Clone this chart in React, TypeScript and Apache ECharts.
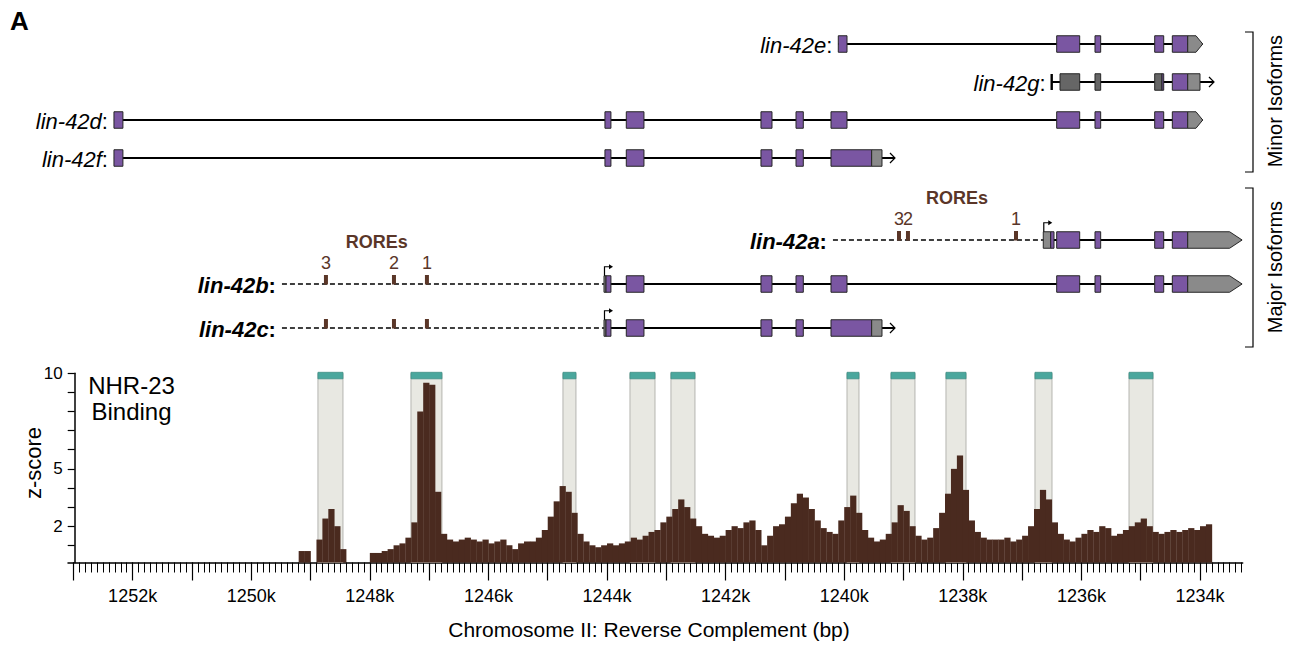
import React, { useEffect, useRef } from 'react';
import * as echarts from 'echarts';

const FONT = '"Liberation Sans", Arial, Helvetica, sans-serif';
const X_MIN = 1233280;
const X_MAX = 1253090;
const Y_MIN = 0.1;
const Y_MAX = 10;

const PURPLE = '#7a56a2';
const GREY = '#8a8a8a';
const DARK_GREY = '#666666';
const BROWN = '#4a2a1f';
const RORE_BROWN = '#5a3628';
const TEAL = '#4aa79d';

// Isoform rows
const MINOR_ROWS = ['lin-42e', 'lin-42g', 'lin-42d', 'lin-42f'];
const MAJOR_ROWS = ['lin-42a', 'lin-42b', 'lin-42c'];

// transcript spans: [row, left bp, right bp, dashed]
const MINOR_SPANS = [
  [0, 1240100, 1233954, 0],
  [1, 1236501, 1233764, 0],
  [2, 1252315, 1233954, 0],
  [3, 1252315, 1239144, 0],
];
const MAJOR_SPANS = [
  [0, 1240190, 1236643, 1],
  [0, 1236643, 1233300, 0],
  [1, 1249482, 1244051, 1],
  [1, 1244051, 1233300, 0],
  [2, 1249482, 1244051, 1],
  [2, 1244051, 1239144, 0],
];

// exons: [row, left bp, right bp, kind] kind: 0 coding, 1 UTR, 2 non-coding dark, 3 3'UTR arrow
const MINOR_EXONS = [
  [0, 1240100, 1239953, 0], [0, 1236417, 1236029, 0], [0, 1235771, 1235675, 0],
  [0, 1234764, 1234612, 0], [0, 1234467, 1234207, 0], [0, 1234207, 1233954, 3],
  [1, 1236361, 1236029, 2], [1, 1235771, 1235675, 2], [1, 1234764, 1234641, 2],
  [1, 1234641, 1234612, 0], [1, 1234467, 1234207, 0], [1, 1234207, 1234000, 1],
  [2, 1252315, 1252164, 0], [2, 1244035, 1243934, 0], [2, 1243675, 1243377, 0],
  [2, 1241404, 1241218, 0], [2, 1240813, 1240690, 0], [2, 1240223, 1239953, 0],
  [2, 1236417, 1236029, 0], [2, 1235771, 1235675, 0], [2, 1234764, 1234612, 0],
  [2, 1234467, 1234207, 0], [2, 1234207, 1233954, 3],
  [3, 1252315, 1252164, 0], [3, 1244035, 1243934, 0], [3, 1243675, 1243377, 0],
  [3, 1241404, 1241218, 0], [3, 1240813, 1240690, 0], [3, 1240223, 1239537, 0],
  [3, 1239537, 1239363, 1],
];
const MAJOR_EXONS = [
  [0, 1236643, 1236518, 1], [0, 1236518, 1236462, 0], [0, 1236417, 1236029, 0],
  [0, 1235771, 1235675, 0], [0, 1234764, 1234612, 0], [0, 1234467, 1234207, 0],
  [0, 1234207, 1233290, 3],
  [1, 1244051, 1244017, 1], [1, 1244017, 1243934, 0], [1, 1243675, 1243377, 0],
  [1, 1241404, 1241218, 0], [1, 1240813, 1240690, 0], [1, 1240223, 1239953, 0],
  [1, 1236417, 1236029, 0], [1, 1235771, 1235675, 0], [1, 1234764, 1234612, 0],
  [1, 1234467, 1234207, 0], [1, 1234207, 1233290, 3],
  [2, 1244051, 1244017, 1], [2, 1244017, 1243934, 0], [2, 1243675, 1243377, 0],
  [2, 1241404, 1241218, 0], [2, 1240813, 1240690, 0], [2, 1240223, 1239537, 0],
  [2, 1239537, 1239363, 1],
];
// open arrow ends [row, bp]
const MINOR_ARROW_ENDS = [[1, 1233764], [3, 1239144]];
const MAJOR_ARROW_ENDS = [[2, 1239144]];
// transcription start marks [row, bp]
const MINOR_START_BARS = [[1, 1236501]];
const MAJOR_TSS = [[0, 1236643], [1, 1244051], [2, 1244051]];

// ROREs [row, bp, label]
const RORES: [number, number, string][] = [
  [0, 1239076, '3'], [0, 1238925, '2'], [0, 1237103, '1'],
  [1, 1248740, '3'], [1, 1247593, '2'], [1, 1247037, '1'],
  [2, 1248740, ''], [2, 1247593, ''], [2, 1247037, ''],
];
const RORE_TITLES = [[0, 1238098], [1, 1247885]];

// NHR-23 binding peaks (highlighted regions) [left bp, right bp]
const PEAK_REGIONS = [
  [1248875, 1248453], [1247306, 1246784], [1244743, 1244524], [1243613, 1243191],
  [1242922, 1242517], [1239953, 1239751], [1239211, 1238807], [1238284, 1237946],
  [1236783, 1236496], [1235197, 1234793],
];

// ChIP z-score coverage, 100 bp bins starting at COV_START going downstream (decreasing bp)
const COV_START = 1249300;
const COV_BIN = 100;
const COVERAGE = [
  0, 0.7, 0.7, 0, 1.3, 2.4, 2.9, 2.0, 0.8, 0,
  0, 0, 0, 0.6, 0.6, 0.7, 0.8, 1.0, 1.1, 1.4,
  2.2, 8.0, 9.5, 9.4, 3.8, 1.6, 1.3, 1.2, 1.3, 1.4,
  1.3, 1.2, 1.3, 1.1, 1.2, 1.3, 1.0, 0.8, 1.1, 1.2,
  1.2, 1.4, 1.8, 2.5, 3.3, 4.1, 3.8, 2.7, 1.6, 1.2,
  1.0, 0.9, 1.0, 1.1, 1.0, 1.1, 1.2, 1.4, 1.3, 1.5,
  1.7, 1.8, 2.2, 2.5, 2.9, 3.4, 3.0, 2.4, 2.0, 1.6,
  1.5, 1.4, 1.5, 1.8, 2.0, 1.9, 2.2, 2.3, 1.8, 1.0,
  1.5, 2.0, 2.1, 2.5, 3.2, 3.7, 3.5, 2.9, 2.3, 1.9,
  1.7, 1.6, 2.3, 3.0, 3.6, 2.7, 1.8, 1.4, 1.2, 1.3,
  1.6, 2.2, 3.1, 2.8, 2.0, 1.5, 1.3, 1.4, 1.9, 2.7,
  3.7, 5.0, 5.7, 3.9, 2.3, 1.7, 1.4, 1.3, 1.3, 1.3,
  1.4, 1.2, 1.3, 1.5, 2.0, 2.9, 3.9, 3.4, 2.2, 1.6,
  1.3, 1.2, 1.4, 1.6, 1.8, 1.7, 2.0, 1.9, 1.5, 1.6,
  1.8, 2.0, 2.2, 2.4, 2.0, 1.7, 1.6, 1.7, 1.8, 1.7,
  1.8, 1.9, 1.8, 2.0, 2.1,
];

const Y_TICKS = [1, 2, 3, 4, 5, 6, 7, 8, 9, 10];
const Y_LABELS = [2, 5, 10];
const X_MAJOR_TICKS = Array.from({ length: 20 }, (_, i) => 1234000 + i * 1000);
const X_LABELS = Array.from({ length: 10 }, (_, i) => 1234000 + i * 2000);
const X_MINOR_TICKS = Array.from({ length: 198 }, (_, i) => 1233300 + i * 100);

const EXON_H = 16.5;
const LABEL_SIZE = 22;

function makeSpanSeries(grid: number, spans: number[][]) {
  return {
    type: 'custom', xAxisIndex: grid, yAxisIndex: grid, z: 1, clip: false,
    data: spans,
    renderItem: (_p: any, api: any) => {
      const row = api.value(0);
      const a = api.coord([api.value(1), row]);
      const b = api.coord([api.value(2), row]);
      const dashed = api.value(3) === 1;
      return {
        type: 'line',
        shape: { x1: a[0], y1: a[1], x2: b[0], y2: b[1] },
        style: { stroke: '#000', lineWidth: dashed ? 1.4 : 1.8, lineDash: dashed ? [5, 3] : null },
      };
    },
  };
}

function makeExonSeries(grid: number, exons: number[][]) {
  return {
    type: 'custom', xAxisIndex: grid, yAxisIndex: grid, z: 3, clip: false,
    data: exons,
    renderItem: (_p: any, api: any) => {
      const row = api.value(0);
      const a = api.coord([api.value(1), row]);
      const b = api.coord([api.value(2), row]);
      const kind = api.value(3);
      const x1 = a[0], x2 = b[0], y = a[1], h = EXON_H;
      const fill = kind === 0 ? PURPLE : kind === 2 ? DARK_GREY : GREY;
      const style = { fill, stroke: '#262626', lineWidth: 1 };
      if (kind === 3) {
        const tip = Math.min(12.5, (x2 - x1) * 0.45);
        return {
          type: 'polygon',
          shape: { points: [[x1, y - h / 2], [x2 - tip, y - h / 2], [x2, y], [x2 - tip, y + h / 2], [x1, y + h / 2]] },
          style,
        };
      }
      return { type: 'rect', shape: { x: x1, y: y - h / 2, width: x2 - x1, height: h }, style };
    },
  };
}

function makeLabelSeries(grid: number, rows: string[], spans: number[][], bold: boolean) {
  const starts = rows.map((_, r) => Math.max(...spans.filter((s) => s[0] === r).map((s) => s[1])));
  const data = rows.map((_, r) => [r, starts[r]]);
  const weight = bold ? 'bold' : 'normal';
  return {
    type: 'custom', xAxisIndex: grid, yAxisIndex: grid, z: 4, clip: false,
    data,
    renderItem: (p: any, api: any) => {
      const row = api.value(0);
      const pt = api.coord([api.value(1), row]);
      return {
        type: 'text',
        x: pt[0] - 6, y: pt[1] + 1,
        style: {
          text: '{it|' + rows[p.dataIndex] + '}{c|:}',
          align: 'right', verticalAlign: 'middle',
          textAlign: 'right', textVerticalAlign: 'middle',
          fill: '#000',
          rich: {
            it: { fontStyle: 'italic', fontWeight: weight, fontSize: LABEL_SIZE, fontFamily: FONT, fill: '#000' },
            c: { fontWeight: weight, fontSize: LABEL_SIZE, fontFamily: FONT, fill: '#000' },
          },
        },
      };
    },
  };
}

function makeArrowEndSeries(grid: number, ends: number[][]) {
  return {
    type: 'custom', xAxisIndex: grid, yAxisIndex: grid, z: 2, clip: false,
    data: ends,
    renderItem: (_p: any, api: any) => {
      const pt = api.coord([api.value(1), api.value(0)]);
      return {
        type: 'polyline',
        shape: { points: [[pt[0] - 5, pt[1] - 5], [pt[0], pt[1]], [pt[0] - 5, pt[1] + 5]] },
        style: { stroke: '#000', lineWidth: 1.2, fill: null },
      };
    },
  };
}

function makeStartBarSeries(grid: number, bars: number[][]) {
  return {
    type: 'custom', xAxisIndex: grid, yAxisIndex: grid, z: 2, clip: false,
    data: bars,
    renderItem: (_p: any, api: any) => {
      const pt = api.coord([api.value(1), api.value(0)]);
      return {
        type: 'line',
        shape: { x1: pt[0], y1: pt[1] - 8, x2: pt[0], y2: pt[1] + 8 },
        style: { stroke: '#000', lineWidth: 2.4 },
      };
    },
  };
}

function makeTssSeries(grid: number, tss: number[][]) {
  return {
    type: 'custom', xAxisIndex: grid, yAxisIndex: grid, z: 4, clip: false,
    data: tss,
    renderItem: (_p: any, api: any) => {
      const pt = api.coord([api.value(1), api.value(0)]);
      const x = pt[0] + 0.5, y0 = pt[1] - EXON_H / 2, y1 = y0 - 9;
      return {
        type: 'group',
        children: [
          { type: 'polyline', shape: { points: [[x, y0], [x, y1], [x + 5, y1]] }, style: { stroke: '#000', lineWidth: 1.2, fill: null } },
          { type: 'polygon', shape: { points: [[x + 4.5, y1 - 2.6], [x + 8.5, y1], [x + 4.5, y1 + 2.6]] }, style: { fill: '#000' } },
        ],
      };
    },
  };
}

function makeRoreSeries() {
  return {
    type: 'custom', xAxisIndex: 1, yAxisIndex: 1, z: 5, clip: false,
    data: RORES.map((r) => [r[0], r[1]]),
    renderItem: (p: any, api: any) => {
      const pt = api.coord([api.value(1), api.value(0)]);
      const label = RORES[p.dataIndex][2];
      const children: any[] = [
        { type: 'rect', shape: { x: pt[0] - 2, y: pt[1] - 9, width: 4, height: 9.5 }, style: { fill: RORE_BROWN } },
      ];
      if (label) {
        children.push({
          type: 'text', x: pt[0], y: pt[1] - 21,
          style: { text: label, fontSize: 18, fontFamily: FONT, fill: RORE_BROWN, align: 'center', verticalAlign: 'middle', textAlign: 'center', textVerticalAlign: 'middle' },
        });
      }
      return { type: 'group', children };
    },
  };
}

function makeRoreTitleSeries() {
  return {
    type: 'custom', xAxisIndex: 1, yAxisIndex: 1, z: 5, clip: false,
    data: RORE_TITLES,
    renderItem: (_p: any, api: any) => {
      const pt = api.coord([api.value(1), api.value(0)]);
      return {
        type: 'text', x: pt[0], y: pt[1] - 42,
        style: { text: 'ROREs', fontSize: 18, fontWeight: 'bold', fontFamily: FONT, fill: RORE_BROWN, align: 'center', verticalAlign: 'middle', textAlign: 'center', textVerticalAlign: 'middle' },
      };
    },
  };
}

export default function App() {
  const ref = useRef<HTMLDivElement>(null);
  useEffect(() => {
    if (!ref.current) return;
    const chart = echarts.init(ref.current, undefined, { renderer: 'svg' });
    const covData = COVERAGE.map((v, i) => [COV_START - i * COV_BIN, COV_START - (i + 1) * COV_BIN, v]);
    const hiddenX = (grid: number) => ({
      type: 'value', gridIndex: grid, min: X_MIN, max: X_MAX, inverse: true, show: false,
    });
    const option: any = {
      animation: false,
      backgroundColor: '#fff',
      textStyle: { fontFamily: FONT },
      grid: [
        { left: 68, right: 48.3, top: 25, height: 152 },
        { left: 68, right: 48.3, top: 218, height: 132 },
        { left: 68, right: 48.3, top: 373.3, height: 189.2 },
      ],
      xAxis: [
        hiddenX(0),
        hiddenX(1),
        {
          type: 'value', gridIndex: 2, min: X_MIN, max: X_MAX, inverse: true,
          axisLine: { show: true, lineStyle: { color: '#000', width: 1.5 } },
          axisTick: { show: true, customValues: X_MAJOR_TICKS, length: 18, lineStyle: { color: '#000', width: 1.2 } },
          axisLabel: { customValues: X_LABELS, formatter: (v: number) => Math.round(v / 1000) + 'k', fontSize: 18, color: '#000', margin: 24, fontFamily: FONT },
          splitLine: { show: false },
        },
        {
          type: 'value', gridIndex: 2, min: X_MIN, max: X_MAX, inverse: true, position: 'bottom',
          axisLine: { show: false },
          axisTick: { show: true, customValues: X_MINOR_TICKS, length: 10, lineStyle: { color: '#000', width: 1 } },
          axisLabel: { show: false },
          splitLine: { show: false },
        },
      ],
      yAxis: [
        { type: 'category', gridIndex: 0, data: MINOR_ROWS, inverse: true, show: false },
        { type: 'category', gridIndex: 1, data: MAJOR_ROWS, inverse: true, show: false },
        {
          type: 'value', gridIndex: 2, min: Y_MIN, max: Y_MAX, offset: -6.7,
          axisLine: { show: true, lineStyle: { color: '#000', width: 1.5 } },
          axisTick: { show: true, customValues: Y_TICKS, length: 7, lineStyle: { color: '#000', width: 1.2 } },
          axisLabel: { customValues: Y_LABELS, fontSize: 17, color: '#000', margin: 12, fontFamily: FONT },
          splitLine: { show: false },
        },
      ],
      series: [
        makeSpanSeries(0, MINOR_SPANS),
        makeSpanSeries(1, MAJOR_SPANS),
        makeExonSeries(0, MINOR_EXONS),
        makeExonSeries(1, MAJOR_EXONS),
        makeLabelSeries(0, MINOR_ROWS, MINOR_SPANS, false),
        makeLabelSeries(1, MAJOR_ROWS, MAJOR_SPANS, true),
        makeArrowEndSeries(0, MINOR_ARROW_ENDS),
        makeArrowEndSeries(1, MAJOR_ARROW_ENDS),
        makeStartBarSeries(0, MINOR_START_BARS),
        makeTssSeries(1, MAJOR_TSS),
        makeRoreSeries(),
        makeRoreTitleSeries(),
        {
          type: 'custom', xAxisIndex: 2, yAxisIndex: 2, z: 1,
          data: PEAK_REGIONS,
          renderItem: (_p: any, api: any) => {
            const a = api.coord([api.value(0), Y_MAX]);
            const b = api.coord([api.value(1), Y_MIN]);
            return {
              type: 'group',
              children: [
                { type: 'rect', shape: { x: a[0], y: a[1], width: b[0] - a[0], height: b[1] - a[1] }, style: { fill: '#e8e8e2', stroke: '#b5b5b0', lineWidth: 1 } },
                { type: 'rect', shape: { x: a[0], y: a[1] - 1, width: b[0] - a[0], height: 6.5 }, style: { fill: TEAL, stroke: '#3f8f86', lineWidth: 0.8 } },
              ],
            };
          },
        },
        {
          type: 'custom', xAxisIndex: 2, yAxisIndex: 2, z: 2,
          data: covData,
          renderItem: (_p: any, api: any) => {
            const v = api.value(2);
            if (v <= Y_MIN) return null;
            const a = api.coord([api.value(0), v]);
            const b = api.coord([api.value(1), Y_MIN]);
            return { type: 'rect', shape: { x: a[0], y: a[1], width: b[0] - a[0] + 0.3, height: b[1] - a[1] }, style: { fill: BROWN } };
          },
        },
      ],
      graphic: [
        { type: 'text', left: 10, top: 8, style: { text: 'A', fontSize: 26, fontWeight: 'bold', fontFamily: FONT, fill: '#000' } },
        { type: 'text', x: 131.5, y: 398, style: { text: 'NHR-23\nBinding', fontSize: 24, lineHeight: 26, fontFamily: FONT, fill: '#000', align: 'center', verticalAlign: 'middle', textAlign: 'center', textVerticalAlign: 'middle' } },
        { type: 'text', x: 33.5, y: 463, rotation: Math.PI / 2, style: { text: 'z-score', fontSize: 22, fontFamily: FONT, fill: '#000', align: 'center', verticalAlign: 'middle', textAlign: 'center', textVerticalAlign: 'middle' } },
        { type: 'text', x: 649, y: 629, style: { text: 'Chromosome II: Reverse Complement (bp)', fontSize: 21, fontFamily: FONT, fill: '#000', align: 'center', verticalAlign: 'middle', textAlign: 'center', textVerticalAlign: 'middle' } },
        { type: 'polyline', shape: { points: [[1245, 32], [1253, 32], [1253, 172], [1245, 172]] }, style: { stroke: '#000', lineWidth: 1.2, fill: null } },
        { type: 'polyline', shape: { points: [[1245, 188], [1253, 188], [1253, 347], [1245, 347]] }, style: { stroke: '#000', lineWidth: 1.2, fill: null } },
        { type: 'text', x: 1275, y: 101, rotation: Math.PI / 2, style: { text: 'Minor Isoforms', fontSize: 20, fontFamily: FONT, fill: '#000', align: 'center', verticalAlign: 'middle', textAlign: 'center', textVerticalAlign: 'middle' } },
        { type: 'text', x: 1275, y: 267, rotation: Math.PI / 2, style: { text: 'Major Isoforms', fontSize: 20, fontFamily: FONT, fill: '#000', align: 'center', verticalAlign: 'middle', textAlign: 'center', textVerticalAlign: 'middle' } },
      ],
    };
    chart.setOption(option);
    return () => chart.dispose();
  }, []);
  return <div ref={ref} style={{ position: 'fixed', left: 0, top: 0, width: 1291, height: 646, background: '#fff' }} />;
}
